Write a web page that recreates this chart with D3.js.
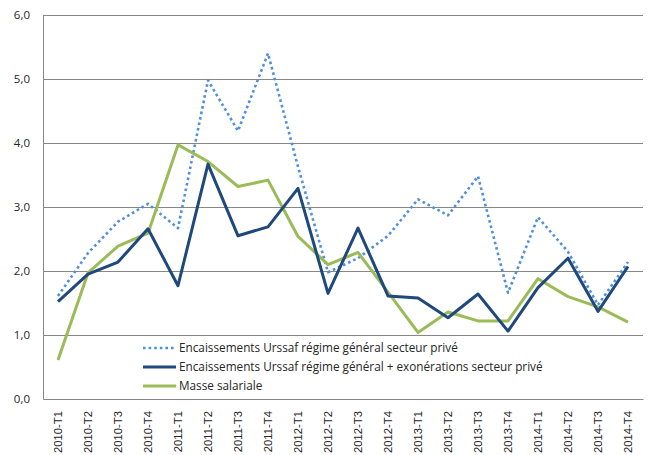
<!DOCTYPE html>
<html><head><meta charset="utf-8">
<script src="https://cdn.jsdelivr.net/npm/d3@7"></script>
<style>body{margin:0;background:#fff}svg{display:block}</style>
</head><body>
<svg id="c" width="648" height="455"></svg>
<script>
const categories = ["2010-T1","2010-T2","2010-T3","2010-T4","2011-T1","2011-T2","2011-T3","2011-T4","2012-T1","2012-T2","2012-T3","2012-T4","2013-T1","2013-T2","2013-T3","2013-T4","2014-T1","2014-T2","2014-T3","2014-T4"];
const urssafGeneral = [1.61,2.28,2.77,3.05,2.67,4.98,4.19,5.40,3.63,1.98,2.20,2.55,3.12,2.87,3.48,1.66,2.84,2.30,1.47,2.14];
const urssafExonerations = [1.52,1.95,2.14,2.66,1.77,3.67,2.55,2.69,3.29,1.65,2.67,1.61,1.58,1.27,1.64,1.06,1.74,2.20,1.37,2.07];
const masseSalariale = [0.61,1.97,2.39,2.59,3.97,3.71,3.32,3.42,2.54,2.10,2.29,1.67,1.04,1.36,1.22,1.22,1.88,1.60,1.44,1.20];
const yTicks = [0,1,2,3,4,5,6];
const seriesNames = ["Encaissements Urssaf régime général secteur privé","Encaissements Urssaf régime général + exonérations secteur privé","Masse salariale"];

(function(){
const svg = d3.select("#c");
const mLeft = 43, mRight = 643, mTop = 15, mBottom = 399;
const x = d3.scaleBand().domain(categories).range([mLeft, mRight]);
const y = d3.scaleLinear().domain([0,6]).range([mBottom, mTop]);

svg.append("g").selectAll("line").data(yTicks.filter(d=>d>0)).join("line")
  .attr("x1", mLeft).attr("x2", mRight)
  .attr("y1", d=>Math.round(y(d))+0.5).attr("y2", d=>Math.round(y(d))+0.5)
  .attr("stroke", "#878787").attr("stroke-width", 1);

const yAxis = svg.append("g").attr("transform", `translate(${mLeft},0)`)
  .call(d3.axisLeft(y).tickValues(yTicks).tickSize(0).tickPadding(13).tickFormat(d=>d3.format(".1f")(d).replace(".",",")));
yAxis.select(".domain").attr("stroke","#878787");
yAxis.selectAll("text").attr("font-family","'Open Sans', sans-serif").attr("font-size","11.5px").attr("fill","#262626");

const xAxis = svg.append("g").attr("transform", `translate(0,${mBottom})`)
  .call(d3.axisBottom(x).tickSize(0).tickPadding(0));
xAxis.select(".domain").attr("stroke","#878787");
xAxis.selectAll("text")
  .attr("font-family","'Liberation Sans', Arial, sans-serif").attr("font-size","11.3px").attr("fill","#262626")
  .attr("transform","rotate(-90)").attr("text-anchor","end").attr("dy","0.35em").attr("x",-12).attr("y",0);

const line = d3.line().x((d,i)=>x(categories[i]) + x.bandwidth()/2).y(d=>y(d));

const styles = [
  {data: urssafGeneral, color:"#4F8FDC", width:2.6, dash:"2.6 3"},
  {data: urssafExonerations, color:"#1F497D", width:3, dash:null},
  {data: masseSalariale, color:"#9BBB59", width:3, dash:null}
];
[styles[0], styles[2], styles[1]].forEach(s=>{
  svg.append("path").datum(s.data).attr("d", line)
    .attr("fill","none").attr("stroke", s.color).attr("stroke-width", s.width)
    .attr("stroke-linejoin","round")
    .attr("stroke-dasharray", s.dash);
});

const legY = [348, 367, 386];
const leg = svg.append("g");
styles.forEach((s,i)=>{
  leg.append("line").attr("x1",143).attr("x2",176).attr("y1",legY[i]).attr("y2",legY[i])
    .attr("stroke", s.color).attr("stroke-width", s.width).attr("stroke-dasharray", s.dash);
  leg.append("text").attr("x",179).attr("y",legY[i]).attr("dy","0.35em")
    .attr("font-family","'Open Sans', sans-serif").attr("font-size","11.75px").attr("fill","#262626")
    .text(seriesNames[i]);
});
})();
</script>
</body></html>
